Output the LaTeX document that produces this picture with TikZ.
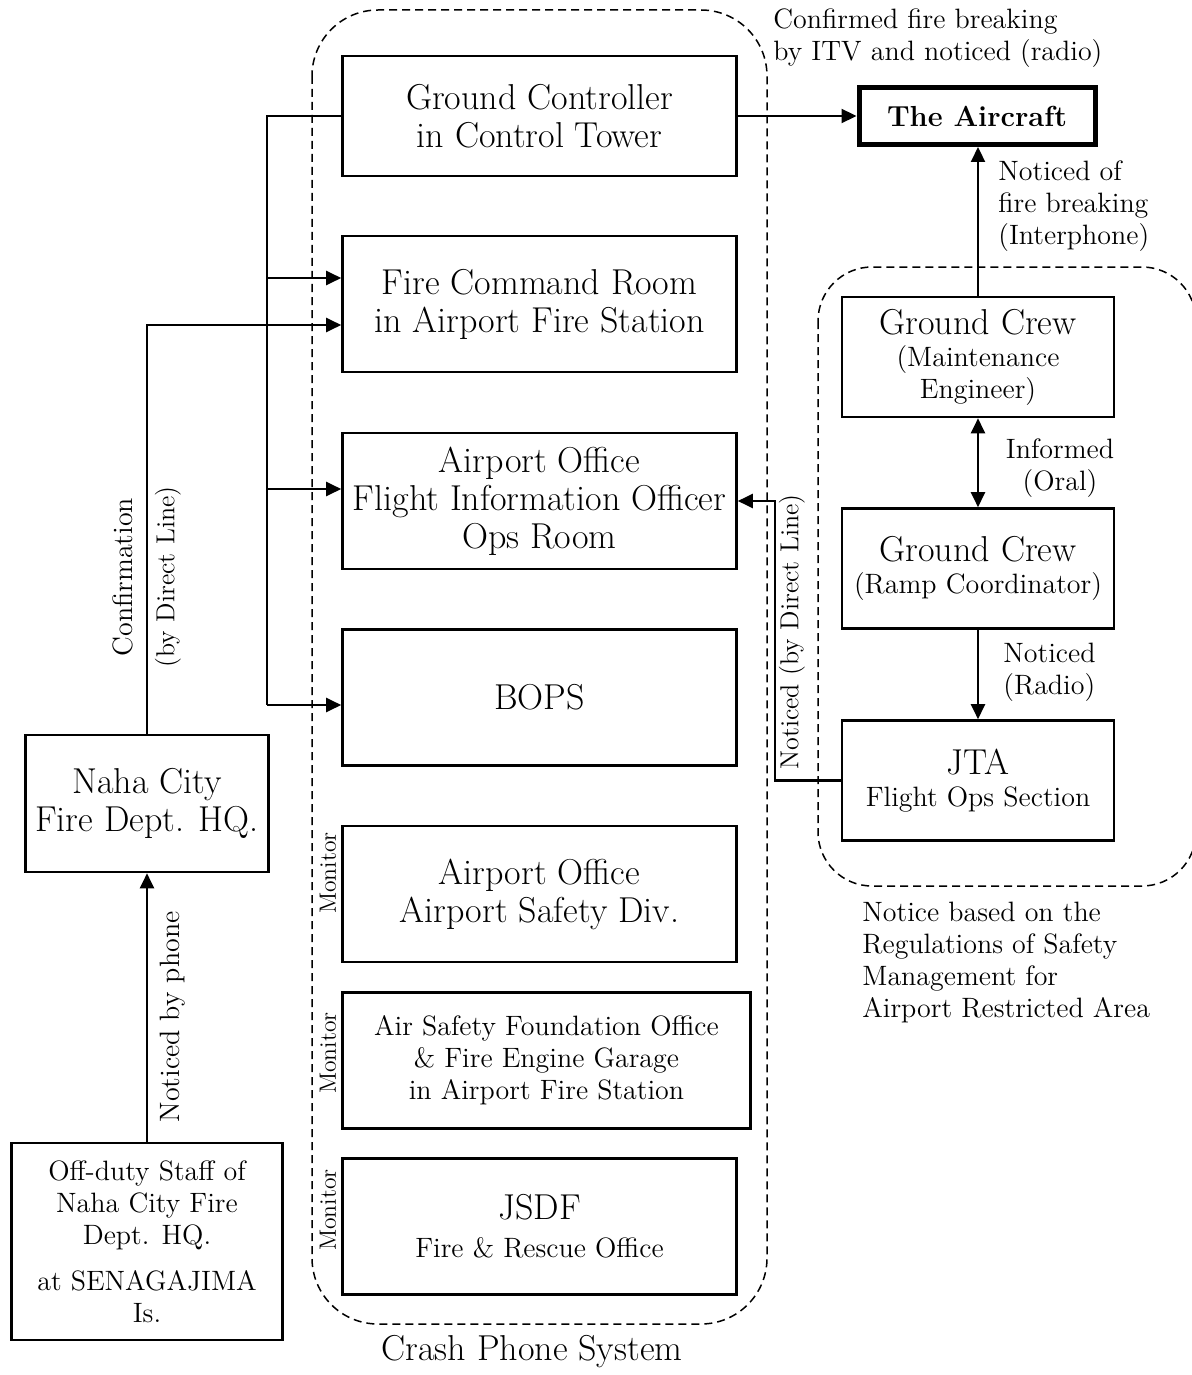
\documentclass[tikz,border=0pt]{standalone}
\usetikzlibrary{arrows.meta}

% Schriftgrößen
\newcommand\grosstext{\fontsize{18}{19}\selectfont}
\newcommand\kleintext{\fontsize{14}{16}\selectfont}
\newcommand\leitungtext{\fontsize{13}{15}\selectfont}
\newcommand\monitortext{\fontsize{11.8}{13}\selectfont}

\begin{document}
\begin{tikzpicture}[x=0.5pt,y=-0.5pt,
    kasten/.style={draw, line width=1.3pt, minimum width=197pt, minimum height=68pt,
        inner sep=0pt, align=center, font=\grosstext},
    crew/.style={draw, line width=1.3pt, minimum width=136pt, minimum height=60pt,
        inner sep=0pt, align=center, font=\kleintext},
    beschr/.style={inner sep=0pt, font=\kleintext},
    linie/.style={line width=1.1pt},
    pfeil/.style={line width=1.1pt, -{Triangle[length=7.5pt,width=7pt]}},
    gestrichelt/.style={line width=0.75pt, dash pattern=on 4pt off 2.5pt}]

    \useasboundingbox (0,0) rectangle (1192,1375);

    % Crash Phone System
    \draw[gestrichelt, rounded corners=33pt] (312,10) rectangle (767,1324);
    \node[font=\grosstext, inner sep=0pt] (cps) at (532,1352) {Crash Phone System};

    \node[kasten, minimum height=60pt] (gc) at (539.5,116) {Ground Controller\\in Control Tower};
    \node[kasten] (fcr) at (539.5,304) {Fire Command Room\\in Airport Fire Station};
    \node[kasten] (fio) at (539.5,501) {Airport Office\\Flight Information Officer\\Ops Room};
    \node[kasten] (bops) at (539.5,697.5) {BOPS};
    \node[kasten] (asd) at (539.5,894) {Airport Office\\Airport Safety Div.};
    \node[kasten, minimum width=204pt, font=\kleintext] (asf) at (546.5,1060.5)
        {Air Safety Foundation Office\\\& Fire Engine Garage\\in Airport Fire Station};
    \node[kasten] (jsdf) at (539.5,1226.5) {JSDF\\{\kleintext Fire \& Rescue Office}};

    \foreach \y/\n in {873/m1, 1053/m2, 1210/m3}
        \node[rotate=90, font=\monitortext, inner sep=0pt] (\n) at (328,\y) {Monitor};

    % Flugzeug
    \node[draw, line width=2.5pt, minimum width=118pt, minimum height=28.5pt, inner sep=0pt,
        font=\fontsize{14.5}{17}\selectfont\bfseries] (air) at (977,116) {The Aircraft};
    \node[beschr, anchor=west, align=left] (itv) at (773,38)
        {Confirmed fire breaking\\by ITV and noticed (radio)};

    % Bodenpersonal
    \draw[gestrichelt, rounded corners=27pt] (818,267) rectangle (1196,886);
    \node[crew] (gcm) at (978,357) {{\grosstext Ground Crew}\\(Maintenance\\Engineer)};
    \node[crew] (gcr) at (978,568.5) {{\grosstext Ground Crew}\\(Ramp Coordinator)};
    \node[crew] (jta) at (978,780.5) {{\grosstext JTA}\\Flight Ops Section};

    \node[beschr, anchor=west, align=left] (l1) at (998,206) {Noticed of\\fire breaking\\(Interphone)};
    \node[beschr, align=center] (l2) at (1060,468) {Informed\\(Oral)};
    \node[beschr, anchor=west, align=left] (l3) at (1003,672) {Noticed\\(Radio)};
    \node[beschr, anchor=west, align=left] (l4) at (862,962)
        {Notice based on the\\Regulations of Safety\\Management for\\Airport Restricted Area};
    \node[rotate=90, font=\leitungtext, inner sep=0pt] (l5) at (792,632) {Noticed (by Direct Line)};

    % Feuerwehr Naha
    \node[draw, line width=1.3pt, minimum width=121.5pt, minimum height=68.5pt, inner sep=0pt,
        align=center, font=\grosstext] (naha) at (147,803.5) {Naha City\\Fire Dept. HQ.};
    \node[draw, line width=1.3pt, minimum width=135.5pt, minimum height=98.5pt, inner sep=0pt,
        align=center, font=\kleintext] (off) at (147,1241.5)
        {Off-duty Staff of\\Naha City Fire\\Dept. HQ.\\[7pt]at SENAGAJIMA\\Is.};
    \node[rotate=90, font=\kleintext, inner sep=0pt] (l6) at (123,577) {Confirmation};
    \node[rotate=90, font=\leitungtext, inner sep=0pt] (l7) at (168,577) {(by Direct Line)};
    \node[rotate=90, font=\kleintext, inner sep=0pt] (l8) at (173,1017) {Noticed by phone};

    % Verbindungen
    \coordinate (b1) at (267,278);
    \coordinate (b2) at (267,489);
    \coordinate (b3) at (267,705);
    \coordinate (k1) at (147,325);
    \coordinate (k2) at (775,501);

    \draw[linie] (gc.west) -| (b3);
    \foreach \b/\n in {b1/fcr, b2/fio, b3/bops}
        \draw[pfeil] (\b) -- (\b -| \n.west);
    \draw[pfeil] (naha.north) |- (k1 -| fcr.west);
    \draw[pfeil] (off.north) -- (naha.south);
    \draw[pfeil] (gc.east) -- (air.west);
    \draw[pfeil] (gcm.north) -- (gcm.north |- air.south);
    \draw[line width=1.1pt, {Triangle[length=7.5pt,width=7pt]}-{Triangle[length=7.5pt,width=7pt]}]
        (gcm.south) -- (gcr.north);
    \draw[pfeil] (gcr.south) -- (jta.north);
    \draw[pfeil] (jta.west) -| (k2) -- (fio.east);
\end{tikzpicture}
\end{document}
